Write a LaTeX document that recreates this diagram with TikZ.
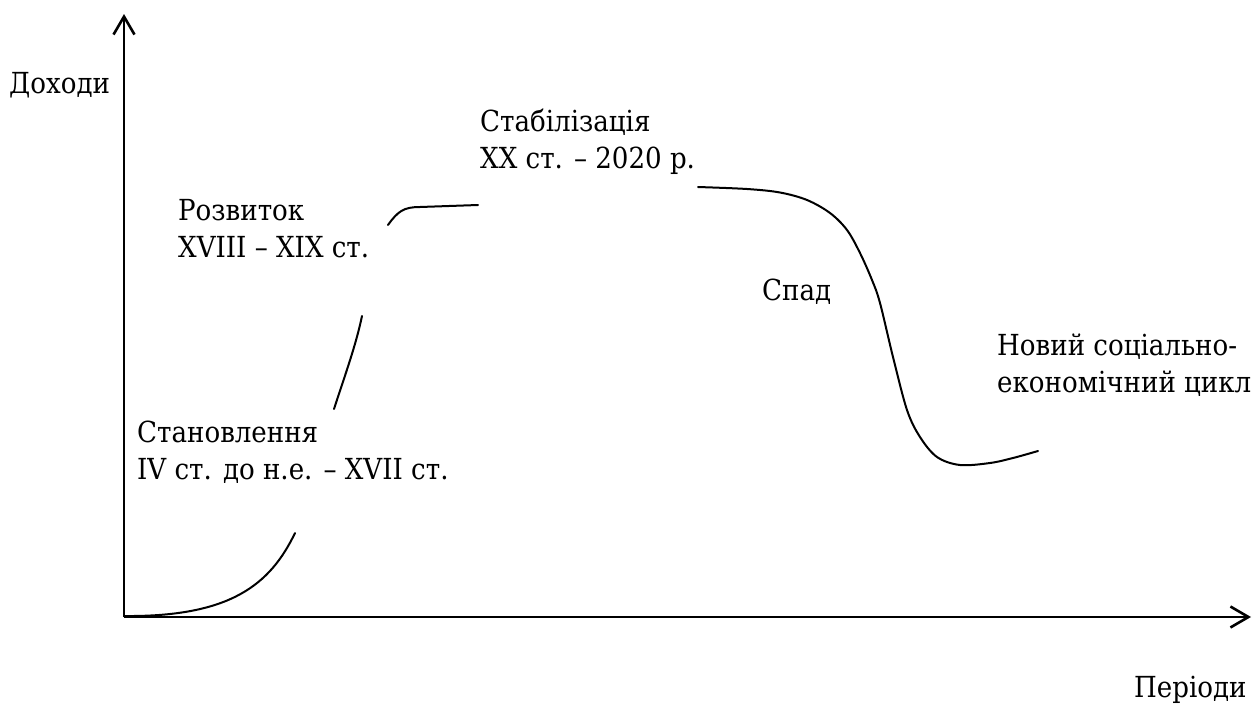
\documentclass[tikz,border=0pt]{standalone}
\usepackage{fontspec}
\setmainfont{DejaVu Serif Condensed}
\usetikzlibrary{arrows.meta}
\begin{document}
\begin{tikzpicture}[x=1pt,y=-1pt,
  lbl/.style={anchor=base west,inner sep=0pt,align=left,font=\rmfamily\fontsize{29}{36.5}\selectfont},
  axis/.style={line width=2.6pt,-{Straight Barb[length=18pt,width=21pt,line width=2.6pt]}},
  curve/.style={line width=2pt,line cap=round}]
\useasboundingbox (0,0) rectangle (1253,704);
\coordinate (O) at (124,617);
\coordinate (ytip) at (124,14);
\coordinate (xtip) at (1251,617);
\draw[axis] (O) -- (ytip);
\draw[axis] (O) -- (xtip);
\node[lbl] (dohody) at (9,93) {Доходи};
\node[lbl] (periody) at (1134,697) {Періоди};
\node[lbl] (stanov) at (137,479) {Становлення\\IV ст. до н.е. – XVII ст.};
\node[lbl] (rozv) at (178,257) {Розвиток\\XVIII – XIX ст.};
\node[lbl] (stab) at (480,168) {Стабілізація\\XX ст. – 2020 р.};
\node[lbl] (spad) at (762,300) {Спад};
\node[lbl] (novyi) at (997,392) {Новий соціально-\\економічний цикл};
\draw[curve] (124,616) .. controls (230,617) and (270,585) .. (295,533);
\draw[curve] (334,409) .. controls (345,375) and (356,345) .. (362,316);
\draw[curve] (388,225) .. controls (398,211) and (404,207) .. (420,207) -- (478,205);
\draw[curve] plot[smooth,tension=0.55] coordinates {(698,187) (747,189) (780,192.5) (807,200) (830,213) (847,230) (860,253) (872,280) (880,303) (893,357) (907,410) (920,437) (937,457) (960,465) (990,463) (1013,458) (1038,451)};
\end{tikzpicture}
\end{document}
